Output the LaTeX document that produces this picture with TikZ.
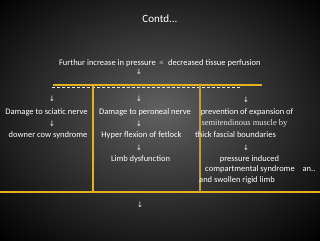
\documentclass[tikz,border=0pt]{standalone}
\usepackage{fontspec}
\setmainfont{Carlito}
\newfontfamily\arrowfont{DejaVu Sans}
\newfontfamily\bookfont{Liberation Serif}
\definecolor{slideyellow}{RGB}{228,178,30}
\definecolor{paleyellow}{RGB}{190,158,62}
\definecolor{bgcenter}{RGB}{98,98,98}
\definecolor{bgmid}{RGB}{70,70,70}
\definecolor{bgedge}{RGB}{28,28,28}
\pgfdeclareradialshading{slidebg}{\pgfpoint{0bp}{2bp}}{color(0bp)=(bgcenter); color(9bp)=(bgmid); color(25bp)=(bgedge); color(36bp)=(black); color(50bp)=(black)}

\begin{document}
\begin{tikzpicture}[x=1pt, y=-1pt,
  every node/.style={font=\fontsize{8.5}{10}\selectfont, text=white, inner sep=0pt},
  down/.style={font=\arrowfont\fontsize{7.5}{9}\selectfont, text=white!85!gray},
  rule/.style={slideyellow, line width=1.5pt}]

  %% Slide background
  \useasboundingbox (0,0) rectangle (320,240);
  \shade[shading=slidebg] (0,0) rectangle (320,240);

  %% Title and first statement
  \node[font=\fontsize{11}{13}\selectfont] (title) at (160,19) {Contd...};
  \node[anchor=east] (rise) at (156,63) {Furthur increase in pressure};
  \node[font=\arrowfont\fontsize{6}{7}\selectfont, text=gray!60] (sym) at (161.5,63) {≤};
  \node[anchor=west] (perf) at (168,63) {decreased tissue perfusion};
  \node[down] (a0) at (139,72) {↓};

  %% Branch lines
  \coordinate (topL) at (53,85);
  \coordinate (topR) at (262,85);
  \draw[rule] (topL) -- (topR);
  \draw[white!80!gray, densely dashed, line width=0.6pt] (52,87.5) -- (241,87.5);
  \coordinate (botL) at (0,192);
  \coordinate (botR) at (320,192);
  \draw[rule, line width=1.8pt] (botL) -- (botR);
  \draw[rule] (93,85) -- (93,192);
  \draw[paleyellow, line width=1.5pt] (200,85) -- (200,192);

  %% Left column: sciatic nerve
  \node[down] (a1) at (52,99) {↓};
  \node (sciatic) at (46.5,112) {Damage to sciatic nerve};
  \node[down] (a2) at (52,124) {↓};
  \node (downer) at (48,135) {downer cow syndrome};

  %% Middle column: peroneal nerve
  \node[down] (a3) at (139,99) {↓};
  \node (peroneal) at (145,112) {Damage to peroneal nerve};
  \node[down] (a4) at (139,124) {↓};
  \node (fetlock) at (141.5,135) {Hyper flexion of fetlock};
  \node[down] (a5) at (139,148) {↓};
  \node (limb) at (140.5,159) {Limb dysfunction};

  %% Right column: fascial boundaries
  \node[down] (a6) at (246,100) {↓};
  \node (prevent) at (247,112) {prevention of expansion of};
  \node[font=\bookfont\fontsize{8.5}{10}\selectfont, text=white!80!gray] (muscle) at (244.5,123) {semitendinous muscle by};
  \node (fascia) at (235.5,135) {thick fascial boundaries};
  \node[down] (a7) at (246,148) {↓};
  \node (press) at (249.5,159) {pressure induced};
  \node (compart) at (250,169.5) {compartmental syndrome};
  \node (an) at (309,169.5) {an..};
  \node (swollen) at (237,180) {and swollen rigid limb};

  %% Final arrow
  \node[down] (a8) at (140,205) {↓};

\end{tikzpicture}
\end{document}
